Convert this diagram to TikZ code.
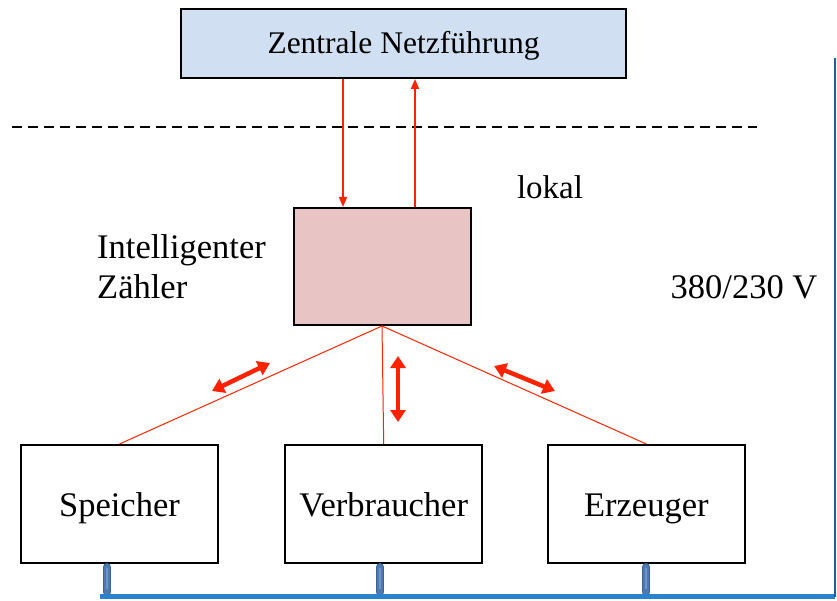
\documentclass[tikz,border=0pt]{standalone}
\usepackage{fontspec}
\setmainfont{Liberation Serif}
\usetikzlibrary{arrows.meta}
\definecolor{topfill}{RGB}{208,224,242}
\definecolor{meterfill}{RGB}{232,196,196}
\definecolor{sigred}{RGB}{255,34,0}
\definecolor{busblue}{RGB}{40,130,205}
\definecolor{stubedge}{RGB}{62,100,150}
\definecolor{stubblue}{RGB}{78,122,178}
\definecolor{stubhi}{RGB}{112,150,200}
\tikzset{
  box/.style={draw=black, line width=2pt, inner sep=0pt, font=\fontsize{34.5}{40}\selectfont},
  lbl/.style={inner sep=0pt, font=\fontsize{34.5}{40}\selectfont},
  sigline/.style={draw=sigred, line width=1pt},
  sigarrow/.style={draw=sigred, line width=1.6pt, -{Triangle[length=10pt,width=8pt]}},
  flow/.style={draw=sigred, line width=4.5pt, {Triangle[length=12pt,width=15pt]}-{Triangle[length=12pt,width=15pt]}},
  stubout/.style={draw=stubedge, line width=8pt, line cap=round},
  stubmid/.style={draw=stubblue, line width=5.5pt, line cap=round},
  stubcore/.style={draw=stubhi, line width=1.5pt},
}
\begin{document}
\begin{tikzpicture}[x=1pt,y=-1pt]
\useasboundingbox (0,0) rectangle (837,601);

% boxes
\node[box, fill=topfill, minimum width=445pt, minimum height=69pt, font=\fontsize{31.5}{38}\selectfont, text height=20pt, text depth=0pt] (top) at (403.5,43.5) {Zentrale Netzführung};
\node[box, fill=meterfill, minimum width=177pt, minimum height=117pt] (mid) at (382,266.5) {};
\node[box, minimum width=197pt, minimum height=118pt, text height=24pt, text depth=0pt] (spe) at (119.5,504) {Speicher};
\node[box, minimum width=197pt, minimum height=118pt, text height=24pt, text depth=0pt] (ver) at (383.7,504) {Verbraucher};
\node[box, minimum width=197pt, minimum height=118pt, text height=24pt, text depth=0pt] (erz) at (646.3,504) {Erzeuger};

% labels
\node[lbl, font=\fontsize{33}{40}\selectfont] (lok) at (550,187) {lokal};
\node[lbl, align=left, anchor=west] (meter) at (97,267) {Intelligenter\\Zähler};
\node[lbl] (volt) at (744,287) {380/230 V};

% boundary between central and local level
\coordinate (dl) at (12,127.5);
\coordinate (dr) at (757,127.5);
\draw[line width=2pt, dash pattern=on 10pt off 6pt] (dl) -- (dr);

% signalling to and from the central grid control
\coordinate (xd) at (343,0);
\coordinate (xu) at (415,0);
\draw[sigarrow] (top.south -| xd) -- (mid.north -| xd);
\draw[sigarrow] (mid.north -| xu) -- (top.south -| xu);

% links from the meter to the devices
\draw[sigline] (mid.south) -- (spe.north);
\draw[sigline] (mid.south) -- (ver.north);
\draw[sigline] (mid.south) -- (erz.north);

% energy flow arrows
\coordinate (a1) at (212,391);
\coordinate (a2) at (270,363);
\coordinate (b1) at (398,356);
\coordinate (b2) at (398,422);
\coordinate (c1) at (494,366);
\coordinate (c2) at (555,391);
\draw[flow] (a1) -- (a2);
\draw[flow] (b1) -- (b2);
\draw[flow] (c1) -- (c2);

% low-voltage bus
\coordinate (busl) at (100,596.5);
\coordinate (busr) at (835,596.5);
\coordinate (bust) at (835,58);
\coordinate (s1) at (107,592);
\coordinate (s2) at (380,592);
\coordinate (s3) at (646,592);
\foreach \b/\s in {spe/s1, ver/s2, erz/s3}{
  \draw[stubout] ([yshift=-3pt]\b.south -| \s) -- (\s);
  \draw[stubmid] ([yshift=-3pt]\b.south -| \s) -- (\s);
  \draw[stubcore] ([yshift=-4pt]\b.south -| \s) -- ([yshift=3pt]\s);
}
\draw[busblue, line width=5pt] (busl) -- (busr);
\draw[busblue!75!black, line width=1.8pt] (busr) -- (bust);
\end{tikzpicture}
\end{document}
